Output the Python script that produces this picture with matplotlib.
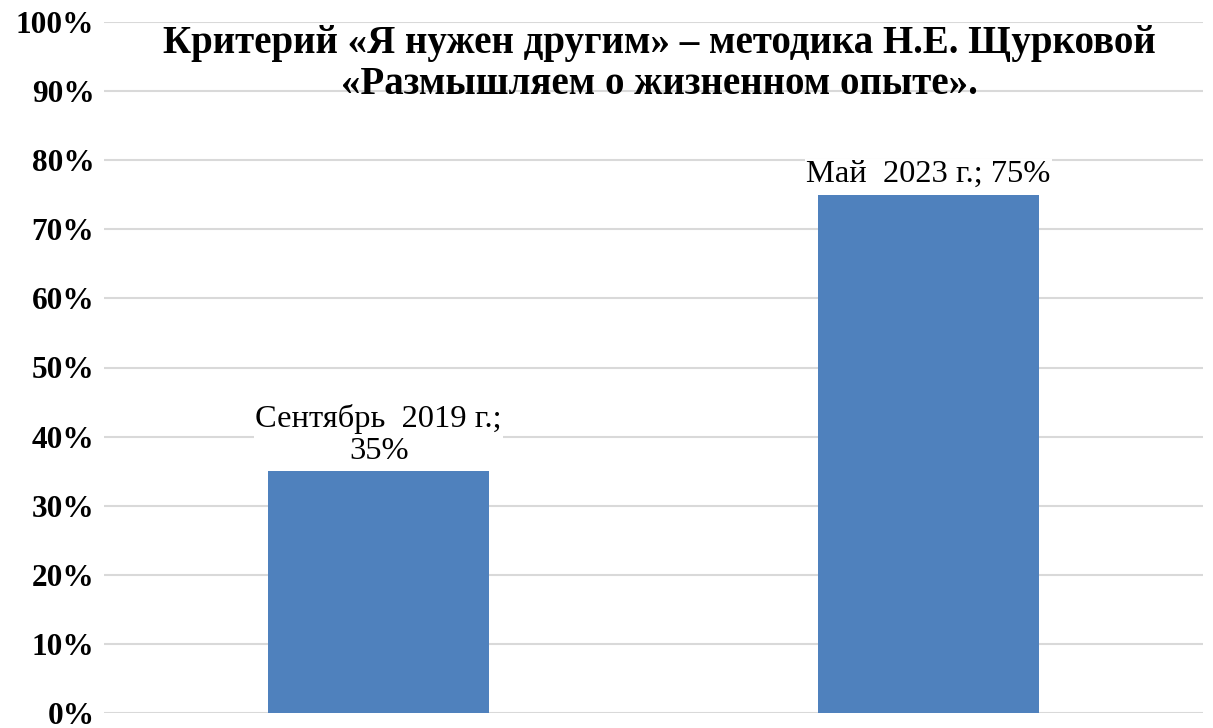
import matplotlib
matplotlib.use("Agg")
import matplotlib.pyplot as plt
from matplotlib.ticker import FuncFormatter

categories = ["Сентябрь  2019 г.", "Май  2023 г."]
values = [35, 75]
labels = ["Сентябрь  2019 г.;\n35%", "Май  2023 г.; 75%"]
yticks = [0, 10, 20, 30, 40, 50, 60, 70, 80, 90, 100]

title = "Критерий «Я нужен другим» – методика Н.Е. Щурковой\n«Размышляем о жизненном опыте»."

plt.rcParams["font.family"] = ["Liberation Serif", "DejaVu Serif"]

fig = plt.figure(figsize=(12.13, 7.28), dpi=100)
ax = fig.add_axes([104 / 1213, 15 / 728, 1099 / 1213, 691 / 728])

x = range(len(values))
ax.bar(x, values, width=0.402, color="#4f81bd", zorder=2)

for xi, v, lab in zip(x, values, labels):
    ax.annotate(lab, (xi, v), xytext=(0, 4), textcoords="offset points",
                ha="center", va="bottom", fontsize=23.4, linespacing=1.1,
                bbox=dict(facecolor="white", edgecolor="none", pad=1),
                zorder=3)

ax.set_xlim(-0.5, 1.5)
ax.set_ylim(0, 100)
ax.set_yticks(yticks)
ax.yaxis.set_major_formatter(FuncFormatter(lambda v, p: f"{v:.0f}%"))
for t in ax.get_yticklabels():
    t.set_fontweight("bold")
    t.set_fontsize(22.5)
ax.tick_params(axis="y", length=0, pad=7)
ax.set_xticks([])
ax.grid(axis="y", color="#d9d9d9", linewidth=1.5, zorder=0)
ax.set_axisbelow(True)
for s in ax.spines.values():
    s.set_visible(False)

fig.text(0.544, 0.912, title, ha="center", va="center", fontsize=28,
         fontweight="bold", linespacing=1.17)

fig.savefig("out.png", dpi=100)
